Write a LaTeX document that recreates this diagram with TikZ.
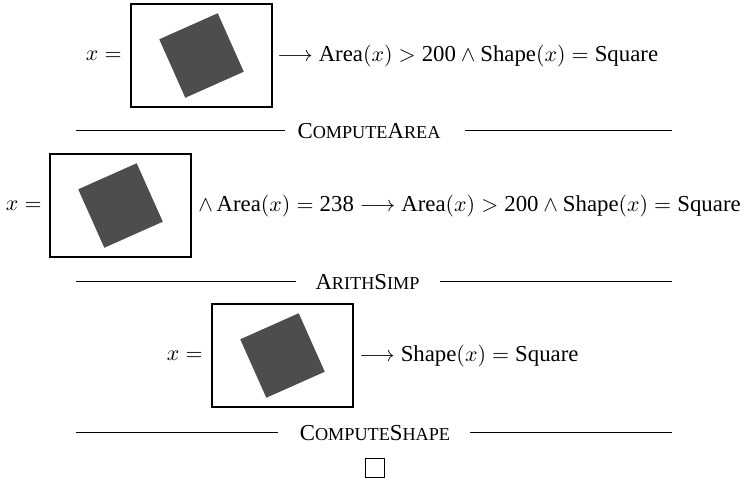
\documentclass[tikz,border=0pt]{standalone}
\usepackage{amsmath}
\usepackage{fontspec}
\setmainfont{Liberation Serif}
\usetikzlibrary{positioning}
\definecolor{imggray}{HTML}{4D4D4D}
% fake small caps (Liberation Serif has none)
\newcommand{\capsc}[2]{#1{\fontsize{9.1}{10}\selectfont #2}}

\begin{document}
\begin{tikzpicture}[
    x=0.5pt, y=-0.5pt,
    font=\fontsize{11.4}{13}\selectfont,
    frame/.style={draw, line width=0.55pt, minimum width=70.5pt, minimum height=51.5pt, inner sep=0pt},
    picsq/.style={fill=imggray, rotate=24, minimum size=32pt, inner sep=0pt},
    lhs/.style={anchor=east, inner sep=0pt},
    rhs/.style={anchor=west, inner sep=0pt},
    rulelabel/.style={inner sep=0pt},
    rule/.style={line width=0.5pt}
]
    \useasboundingbox (0,0) rectangle (744,482);

    % Row 1
    \node[frame] (frame1) at (201.5,55.5) {};
    \node[picsq] (sq1) at (frame1.center) {};
    \node[lhs] (x1) at (122,56) {$x =$};
    \node[rhs] (goal1) at (277,56) {$\longrightarrow \text{Area}(x) > \text{200} \wedge \text{Shape}(x) = \text{Square}$};

    % Rule 1
    \node[rulelabel] (lab1) at (369,131) {\capsc{C}{OMPUTE}\capsc{A}{REA}};
    \coordinate (r1a) at (76,130);
    \coordinate (r1b) at (285,130);
    \coordinate (r1c) at (465,130);
    \coordinate (r1d) at (672,130);
    \draw[rule] (r1a) -- (r1b);
    \draw[rule] (r1c) -- (r1d);

    % Row 2
    \node[frame] (frame2) at (120.5,205.5) {};
    \node[picsq] (sq2) at (frame2.center) {};
    \node[lhs] (x2) at (42,206) {$x =$};
    \node[rhs] (goal2) at (198,206) {$\wedge\, \text{Area}(x) = \text{238} \longrightarrow \text{Area}(x) > \text{200} \wedge \text{Shape}(x) = \text{Square}$};

    % Rule 2
    \node[rulelabel] (lab2) at (367.5,282) {\capsc{A}{RITH}\capsc{S}{IMP}};
    \coordinate (r2a) at (76,281);
    \coordinate (r2b) at (296,281);
    \coordinate (r2c) at (440,281);
    \coordinate (r2d) at (672,281);
    \draw[rule] (r2a) -- (r2b);
    \draw[rule] (r2c) -- (r2d);

    % Row 3
    \node[frame] (frame3) at (282.5,355.5) {};
    \node[picsq] (sq3) at (frame3.center) {};
    \node[lhs] (x3) at (203,356) {$x =$};
    \node[rhs] (goal3) at (359,356) {$\longrightarrow \text{Shape}(x) = \text{Square}$};

    % Rule 3
    \node[rulelabel] (lab3) at (375,433) {\capsc{C}{OMPUTE}\capsc{S}{HAPE}};
    \coordinate (r3a) at (76,432);
    \coordinate (r3b) at (278,432);
    \coordinate (r3c) at (470,432);
    \coordinate (r3d) at (672,432);
    \draw[rule] (r3a) -- (r3b);
    \draw[rule] (r3c) -- (r3d);

    % QED
    \node[draw, line width=0.5pt, minimum size=9.5pt, inner sep=0pt] (qed) at (374.5,467.5) {};
\end{tikzpicture}
\end{document}
